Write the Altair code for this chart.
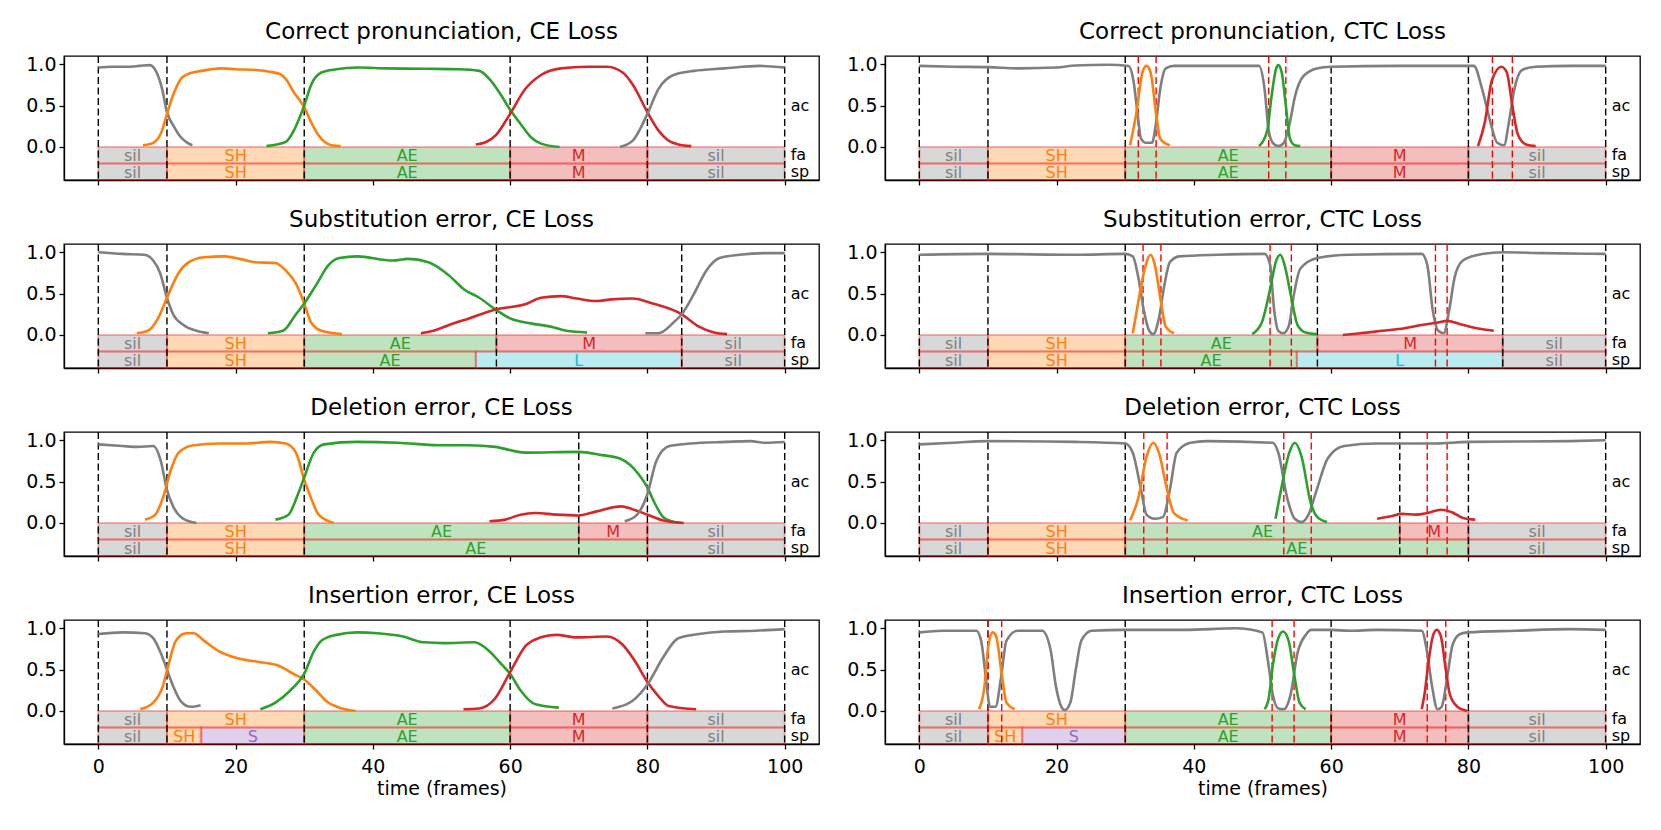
import altair as alt
import pandas as pd

# ---------------- shared categories / styling tables ----------------
PHONES = ["sil", "SH", "AE", "M", "L", "S"]
PHONE_COLORS = ["#7f7f7f", "#ff7f0e", "#2ca02c", "#d62728", "#17becf", "#9467bd"]
X_TICKS = [0, 20, 40, 60, 80, 100]
Y_TICKS = [0.0, 0.5, 1.0]
ROW_NAMES = ["ac", "fa", "sp"]
ROW_Y = [0.5, -0.1, -0.3]

# ---------------- segmentations ----------------
corr_fa_labels = ["sil", "SH", "AE", "M", "sil"]
corr_fa_edges = [0, 10, 30, 60, 80, 100]
corr_sp_labels = ["sil", "SH", "AE", "M", "sil"]
corr_sp_edges = [0, 10, 30, 60, 80, 100]
corr_bounds = [0, 10, 30, 60, 80, 100]

sub_fa_labels = ["sil", "SH", "AE", "M", "sil"]
sub_fa_edges = [0, 10, 30, 58, 85, 100]
sub_sp_labels = ["sil", "SH", "AE", "L", "sil"]
sub_sp_edges = [0, 10, 30, 55, 85, 100]
sub_bounds = [0, 10, 30, 58, 85, 100]

del_fa_labels = ["sil", "SH", "AE", "M", "sil"]
del_fa_edges = [0, 10, 30, 70, 80, 100]
del_sp_labels = ["sil", "SH", "AE", "sil"]
del_sp_edges = [0, 10, 30, 80, 100]
del_bounds = [0, 10, 30, 70, 80, 100]

ins_fa_labels = ["sil", "SH", "AE", "M", "sil"]
ins_fa_edges = [0, 10, 30, 60, 80, 100]
ins_sp_labels = ["sil", "SH", "S", "AE", "M", "sil"]
ins_sp_edges = [0, 10, 15, 30, 60, 80, 100]
ins_bounds = [0, 10, 30, 60, 80, 100]

# red dashed markers (CTC panels)
corr_ctc_marks = [31.9, 34.5, 50.9, 53.4, 83.5, 86.4]
sub_ctc_marks = [32.6, 35.2, 51.1, 54.2, 75.2, 76.9]
del_ctc_marks = [32.7, 36.1, 53.1, 57.1, 74.0, 76.9]
ins_ctc_marks = [10.0, 12.0, 51.4, 54.6, 74.0, 76.7]

# ---------------- posterior curves (frame, probability) ----------------
corr_ce_sil1 = [(0, 0.96), (2, 0.97), (4, 0.97), (6, 0.98), (7.5, 0.99), (8.5, 0.9), (9.3, 0.7), (10, 0.42), (11, 0.25), (12, 0.12), (13, 0.05), (13.7, 0.02)]
corr_ce_sh = [(6.5, 0.02), (8, 0.05), (9.3, 0.2), (10, 0.4), (11, 0.65), (12, 0.82), (13, 0.88), (15, 0.92), (18, 0.95), (20, 0.94), (23, 0.93), (25, 0.91), (26.5, 0.88), (27.5, 0.8), (28.5, 0.66), (29.3, 0.57), (30, 0.48), (31, 0.3), (32, 0.15), (33, 0.06), (34, 0.02), (35.3, 0.01)]
corr_ce_ae = [(24.5, 0.01), (26, 0.03), (27.3, 0.06), (28.5, 0.2), (29.3, 0.35), (30, 0.5), (31, 0.75), (32.5, 0.9), (34.7, 0.94), (37.7, 0.96), (42, 0.95), (47.4, 0.945), (52.6, 0.94), (55.5, 0.92), (57, 0.82), (58.5, 0.65), (60, 0.45), (61.5, 0.28), (63, 0.12), (64.5, 0.04), (67.2, 0.0)]
corr_ce_m = [(55, 0.03), (56.5, 0.06), (58, 0.15), (60, 0.4), (62.2, 0.7), (64.5, 0.87), (67.4, 0.95), (71.2, 0.97), (74.1, 0.97), (76.4, 0.9), (77.9, 0.75), (80, 0.42), (81.6, 0.2), (83, 0.08), (84.5, 0.03), (86.4, 0.01)]
corr_ce_sil2 = [(76, 0.0), (77.9, 0.08), (80, 0.4), (81.6, 0.7), (83.8, 0.87), (86.8, 0.92), (91.2, 0.95), (96.4, 0.98), (100, 0.96)]

corr_ctc_sil = [(0, 0.98), (5, 0.97), (10, 0.965), (14.7, 0.95), (20, 0.96), (22.7, 0.985), (27.5, 0.995), (30.5, 0.98), (31.2, 0.8), (31.8, 0.4), (32.3, 0.1), (33, 0.05), (33.9, 0.05), (34.5, 0.3), (35.1, 0.7), (35.9, 0.95), (37.1, 0.98), (45, 0.98), (49.5, 0.98), (50.3, 0.7), (50.9, 0.2), (51.5, 0.05), (52.3, 0.01), (53.1, 0.05), (54, 0.3), (54.7, 0.6), (55.9, 0.85), (57.9, 0.95), (60, 0.97), (70, 0.98), (80.8, 0.98), (82, 0.7), (83.2, 0.3), (84.2, 0.05), (85.2, 0.02), (85.9, 0.3), (86.7, 0.7), (87.8, 0.93), (89.8, 0.97), (95, 0.98), (100, 0.98)]
corr_ctc_sh = [(30.7, 0.02), (31.6, 0.4), (32.5, 0.9), (33.1, 0.98), (33.7, 0.9), (34.5, 0.4), (35.1, 0.1), (36.5, 0.02)]
corr_ctc_ae = [(49.5, 0.01), (50.7, 0.2), (51.3, 0.6), (52, 0.95), (52.3, 0.99), (52.8, 0.9), (53.4, 0.5), (54, 0.1), (54.7, 0.02), (55.5, 0.01)]
corr_ctc_m = [(81.4, 0.01), (82.4, 0.3), (83.4, 0.8), (84.8, 0.97), (85.6, 0.9), (86.4, 0.5), (87.2, 0.15), (88.4, 0.03), (89.8, 0.01)]

sub_ce_sil1 = [(0, 1.0), (3.5, 0.98), (6.7, 0.97), (8, 0.9), (9, 0.75), (10, 0.45), (10.9, 0.25), (12.4, 0.12), (14.3, 0.05), (16.1, 0.02)]
sub_ce_sh = [(5.6, 0.02), (7.2, 0.05), (8.7, 0.2), (10, 0.45), (11.7, 0.75), (13.2, 0.88), (15.4, 0.94), (18.4, 0.95), (20.6, 0.92), (22.8, 0.88), (25.8, 0.87), (27.3, 0.78), (28.8, 0.62), (30, 0.38), (31, 0.15), (32.5, 0.05), (35.5, 0.01)]
sub_ce_ae = [(24.7, 0.02), (26.9, 0.05), (28.8, 0.25), (30, 0.38), (31.7, 0.6), (33.6, 0.85), (35.1, 0.93), (37.7, 0.95), (42.9, 0.9), (45.1, 0.92), (48.1, 0.88), (51.1, 0.72), (53.3, 0.55), (55.5, 0.45), (58, 0.3), (60, 0.2), (63, 0.14), (66, 0.1), (68.2, 0.05), (71.2, 0.03)]
sub_ce_m = [(47, 0.02), (48.8, 0.05), (51.1, 0.12), (54, 0.2), (58, 0.31), (62.2, 0.37), (64.5, 0.45), (67.4, 0.47), (69.7, 0.44), (72.6, 0.41), (74.8, 0.43), (77.8, 0.44), (80.8, 0.38), (85, 0.25), (87.5, 0.1), (89.7, 0.03), (91.6, 0.01)]
sub_ce_sil2 = [(79.7, 0.02), (81.6, 0.02), (83.8, 0.15), (85, 0.25), (86.8, 0.5), (88.6, 0.78), (90.5, 0.93), (93.4, 0.97), (97.1, 0.99), (100, 0.99)]

sub_ctc_sil = [(0, 0.97), (10, 0.98), (22.7, 0.97), (30, 0.98), (31.1, 0.95), (31.9, 0.7), (32.7, 0.3), (33.5, 0.05), (34.1, 0.01), (34.9, 0.2), (35.7, 0.6), (36.5, 0.88), (37.9, 0.95), (43.5, 0.97), (50.3, 0.98), (51.1, 0.85), (51.7, 0.3), (52.3, 0.05), (53, 0.02), (53.8, 0.1), (54.6, 0.5), (55.5, 0.8), (58, 0.93), (62.7, 0.97), (73.2, 0.98), (74, 0.85), (74.8, 0.3), (75.6, 0.05), (76.4, 0.02), (77.2, 0.3), (78, 0.7), (79.2, 0.9), (82, 0.98), (85, 1.0), (90.8, 0.99), (100, 0.98)]
sub_ctc_sh = [(31.1, 0.02), (31.9, 0.4), (32.7, 0.75), (33.7, 0.97), (34.3, 0.85), (35.2, 0.4), (35.9, 0.1), (37.1, 0.02)]
sub_ctc_ae = [(48.5, 0.01), (49.9, 0.15), (51.1, 0.55), (52, 0.9), (52.6, 0.97), (53.2, 0.85), (54.2, 0.45), (55.1, 0.12), (56.3, 0.03), (57.9, 0.01)]
sub_ctc_m = [(61.7, 0.0), (64.3, 0.02), (67.5, 0.05), (70.7, 0.08), (73.2, 0.12), (75.6, 0.15), (76.9, 0.17), (78.8, 0.13), (81.2, 0.08), (83.7, 0.05)]

del_ce_sil1 = [(0, 0.95), (3.5, 0.93), (5.7, 0.92), (8, 0.93), (9.1, 0.75), (10, 0.4), (10.9, 0.2), (12.4, 0.05), (14.3, 0.0)]
del_ce_sh = [(6.8, 0.04), (8.3, 0.1), (9.4, 0.3), (10.6, 0.65), (11.7, 0.85), (13.9, 0.94), (17.6, 0.96), (21.3, 0.96), (25.1, 0.98), (27.3, 0.96), (28.8, 0.85), (30, 0.52), (31, 0.3), (32.1, 0.1), (34.3, 0.0)]
del_ce_ae = [(25.8, 0.04), (27.7, 0.1), (29.1, 0.35), (30, 0.55), (31.4, 0.85), (32.9, 0.95), (37.7, 0.98), (43.6, 0.97), (49.6, 0.94), (54, 0.94), (57.8, 0.92), (62.2, 0.85), (70, 0.86), (73.4, 0.82), (76, 0.78), (77.5, 0.7), (78.8, 0.58), (80, 0.43), (81, 0.25), (82.3, 0.07), (83.5, 0.02), (84.9, 0.0)]
del_ce_m = [(57, 0.02), (59.3, 0.04), (61.5, 0.1), (63.7, 0.12), (66.7, 0.1), (70, 0.09), (72.6, 0.14), (76.2, 0.2), (77.7, 0.17), (80, 0.1), (82.3, 0.03), (85.3, 0.0)]
del_ce_sil2 = [(76.7, 0.02), (78.5, 0.1), (80, 0.35), (81.3, 0.75), (83.2, 0.93), (86.2, 0.96), (91.4, 0.98), (95, 0.99), (97.2, 0.97), (100, 0.98)]

del_ctc_sil = [(0, 0.95), (5, 0.97), (10, 0.99), (22.7, 0.98), (30, 0.96), (31.1, 0.85), (32.3, 0.4), (33.1, 0.1), (34.3, 0.05), (35.5, 0.07), (36.5, 0.4), (37.5, 0.85), (39.5, 0.97), (41.9, 0.99), (51.5, 0.97), (52.3, 0.85), (53.6, 0.3), (54.7, 0.05), (55.7, 0.01), (56.7, 0.1), (57.9, 0.4), (59.5, 0.78), (61.9, 0.93), (66.7, 0.96), (74.8, 0.96), (80, 0.98), (94.8, 0.99), (100, 1.0)]
del_ctc_sh = [(30.7, 0.03), (31.9, 0.3), (33.1, 0.8), (34.1, 0.97), (34.9, 0.85), (36.1, 0.4), (37.1, 0.12), (39.1, 0.03)]
del_ctc_ae = [(51.9, 0.05), (52.7, 0.4), (53.9, 0.85), (54.7, 0.97), (55.7, 0.8), (57, 0.25), (57.9, 0.08), (59.4, 0.01)]
del_ctc_m = [(66.7, 0.05), (68.7, 0.08), (70.3, 0.11), (72.4, 0.1), (74, 0.12), (76, 0.16), (77.6, 0.13), (79.2, 0.06), (81, 0.04)]

ins_ce_sil1 = [(0, 0.93), (3.5, 0.95), (6.8, 0.94), (8, 0.88), (9.1, 0.7), (10, 0.5), (10.9, 0.3), (12, 0.12), (13.5, 0.05), (14.9, 0.07)]
ins_ce_sh = [(6.1, 0.02), (8, 0.1), (9.4, 0.3), (10.2, 0.55), (11.3, 0.85), (12.8, 0.94), (13.9, 0.94), (15.4, 0.85), (17.6, 0.72), (20.6, 0.63), (23.6, 0.59), (26.2, 0.55), (28.4, 0.45), (30, 0.38), (31.7, 0.25), (33.2, 0.12), (35.5, 0.03), (37.5, 0.0)]
ins_ce_ae = [(23.6, 0.02), (25.8, 0.1), (28, 0.25), (30, 0.45), (31.4, 0.72), (32.5, 0.85), (34.7, 0.92), (37.7, 0.95), (40.7, 0.94), (44.4, 0.9), (47.4, 0.83), (50.3, 0.82), (54.8, 0.83), (57, 0.72), (58.9, 0.55), (60, 0.45), (61.5, 0.25), (63.7, 0.08), (67.1, 0.04)]
ins_ce_m = [(53.2, 0.02), (55.5, 0.03), (57.8, 0.15), (60, 0.47), (62.2, 0.78), (64.5, 0.89), (66.7, 0.92), (69.7, 0.89), (74.1, 0.9), (76.4, 0.8), (78.2, 0.6), (80, 0.35), (81.6, 0.18), (83.1, 0.06), (87.1, 0.02)]
ins_ce_sil2 = [(74.9, 0.03), (77.8, 0.12), (80, 0.32), (82.3, 0.65), (84.5, 0.88), (87.5, 0.93), (91.2, 0.96), (95.7, 0.97), (100, 0.99)]

ins_ctc_sil = [(0, 0.95), (3.4, 0.97), (8.3, 0.97), (9, 0.85), (9.7, 0.4), (10.3, 0.05), (11.1, 0.05), (11.9, 0.4), (12.7, 0.85), (14.3, 0.97), (17.9, 0.97), (19.1, 0.75), (19.9, 0.3), (20.7, 0.05), (21.2, 0.01), (22, 0.1), (22.8, 0.5), (23.6, 0.85), (25.1, 0.97), (30, 0.98), (38.7, 0.98), (46, 1.0), (50, 0.95), (50.8, 0.6), (51.5, 0.2), (52.3, 0.03), (53.1, 0.02), (54.1, 0.2), (55.1, 0.7), (56.3, 0.92), (57.1, 0.98), (60, 0.98), (62.7, 0.97), (66.7, 0.98), (73.2, 0.97), (74, 0.7), (74.7, 0.3), (75.5, 0.02), (76.1, 0.05), (76.9, 0.4), (77.7, 0.8), (78.8, 0.93), (80, 0.95), (86.8, 0.97), (94.8, 0.99), (100, 0.98)]
ins_ctc_sh = [(8.7, 0.02), (9.5, 0.3), (10, 0.75), (10.7, 0.95), (11.2, 0.9), (12, 0.45), (12.7, 0.1), (13.9, 0.02)]
ins_ctc_ae = [(50.3, 0.02), (50.9, 0.15), (51.5, 0.55), (52.3, 0.88), (53, 0.96), (53.8, 0.85), (54.6, 0.45), (55.4, 0.1), (56.3, 0.02)]
ins_ctc_m = [(73.2, 0.02), (73.6, 0.2), (74.2, 0.6), (74.8, 0.9), (75.4, 0.98), (76, 0.9), (76.7, 0.5), (77.3, 0.2), (78.4, 0.05), (79.8, 0.0)]

# ---------------- panel table ----------------
panels = [
    [
        dict(title="Correct pronunciation, CE Loss", fa=(corr_fa_labels, corr_fa_edges), sp=(corr_sp_labels, corr_sp_edges), bounds=corr_bounds, marks=[],
             curves=[("sil", corr_ce_sil1), ("SH", corr_ce_sh), ("AE", corr_ce_ae), ("M", corr_ce_m), ("sil", corr_ce_sil2)]),
        dict(title="Correct pronunciation, CTC Loss", fa=(corr_fa_labels, corr_fa_edges), sp=(corr_sp_labels, corr_sp_edges), bounds=corr_bounds, marks=corr_ctc_marks,
             curves=[("sil", corr_ctc_sil), ("SH", corr_ctc_sh), ("AE", corr_ctc_ae), ("M", corr_ctc_m)]),
    ],
    [
        dict(title="Substitution error, CE Loss", fa=(sub_fa_labels, sub_fa_edges), sp=(sub_sp_labels, sub_sp_edges), bounds=sub_bounds, marks=[],
             curves=[("sil", sub_ce_sil1), ("SH", sub_ce_sh), ("AE", sub_ce_ae), ("M", sub_ce_m), ("sil", sub_ce_sil2)]),
        dict(title="Substitution error, CTC Loss", fa=(sub_fa_labels, sub_fa_edges), sp=(sub_sp_labels, sub_sp_edges), bounds=sub_bounds, marks=sub_ctc_marks,
             curves=[("sil", sub_ctc_sil), ("SH", sub_ctc_sh), ("AE", sub_ctc_ae), ("M", sub_ctc_m)]),
    ],
    [
        dict(title="Deletion error, CE Loss", fa=(del_fa_labels, del_fa_edges), sp=(del_sp_labels, del_sp_edges), bounds=del_bounds, marks=[],
             curves=[("sil", del_ce_sil1), ("SH", del_ce_sh), ("AE", del_ce_ae), ("M", del_ce_m), ("sil", del_ce_sil2)]),
        dict(title="Deletion error, CTC Loss", fa=(del_fa_labels, del_fa_edges), sp=(del_sp_labels, del_sp_edges), bounds=del_bounds, marks=del_ctc_marks,
             curves=[("sil", del_ctc_sil), ("SH", del_ctc_sh), ("AE", del_ctc_ae), ("M", del_ctc_m)]),
    ],
    [
        dict(title="Insertion error, CE Loss", fa=(ins_fa_labels, ins_fa_edges), sp=(ins_sp_labels, ins_sp_edges), bounds=ins_bounds, marks=[],
             curves=[("sil", ins_ce_sil1), ("SH", ins_ce_sh), ("AE", ins_ce_ae), ("M", ins_ce_m), ("sil", ins_ce_sil2)]),
        dict(title="Insertion error, CTC Loss", fa=(ins_fa_labels, ins_fa_edges), sp=(ins_sp_labels, ins_sp_edges), bounds=ins_bounds, marks=ins_ctc_marks,
             curves=[("sil", ins_ctc_sil), ("SH", ins_ctc_sh), ("AE", ins_ctc_ae), ("M", ins_ctc_m)]),
    ],
]

FONT = "DejaVu Sans"
FS = 19          # tick labels / axis title
FS_IN = 16       # phone labels inside bars and row names
PANEL_W = 755
PANEL_H = 124
xscale = alt.Scale(domain=[-5, 105], nice=False, zero=False)
yscale = alt.Scale(domain=[-0.4, 1.1], nice=False, zero=False)
cscale = alt.Scale(domain=PHONES, range=PHONE_COLORS)


def seg_rows(labels, edges, y0, y1):
    out = []
    for i, lab in enumerate(labels):
        out.append(dict(phone=lab, x0=edges[i], x1=edges[i + 1], y0=y0, y1=y1,
                        xm=(edges[i] + edges[i + 1]) / 2, ym=(y0 + y1) / 2))
    return out


def make_panel(spec, bottom):
    xaxis = alt.Axis(values=X_TICKS, labels=bottom, grid=False, tickSize=5, labelPadding=8,
                     title="time (frames)" if bottom else None)
    yaxis = alt.Axis(values=Y_TICKS, format=".1f", grid=False, tickSize=5, labelPadding=3, title=None)

    segs = pd.DataFrame(seg_rows(*spec["fa"], 0.0, -0.2) + seg_rows(*spec["sp"], -0.2, -0.4))
    rects = alt.Chart(segs).mark_rect(fillOpacity=0.3, stroke="#ff0000", strokeOpacity=0.3, strokeWidth=2).encode(
        x=alt.X("x0:Q", scale=xscale, axis=xaxis), x2="x1:Q",
        y=alt.Y("y0:Q", scale=yscale, axis=yaxis), y2="y1:Q",
        fill=alt.Fill("phone:N", scale=cscale, legend=None),
    )
    seg_text = alt.Chart(segs).mark_text(font=FONT, fontSize=FS_IN, baseline="middle", align="center", dy=1).encode(
        x=alt.X("xm:Q", scale=xscale, axis=xaxis),
        y=alt.Y("ym:Q", scale=yscale, axis=yaxis),
        text="phone:N",
        color=alt.Color("phone:N", scale=cscale, legend=None),
    )
    bdf = pd.DataFrame({"x": spec["bounds"]})
    brules = alt.Chart(bdf).mark_rule(color="black", strokeWidth=1.4, strokeDash=[7, 3.5]).encode(
        x=alt.X("x:Q", scale=xscale, axis=xaxis))
    layers = [rects, seg_text, brules]
    if spec["marks"]:
        mdf = pd.DataFrame({"x": spec["marks"]})
        layers.append(alt.Chart(mdf).mark_rule(color="#ff0000", strokeWidth=1.4, strokeDash=[7, 3.5]).encode(
            x=alt.X("x:Q", scale=xscale, axis=xaxis)))
    rows = []
    for ci, (ph, pts) in enumerate(spec["curves"]):
        for t, p in pts:
            rows.append(dict(t=t, p=p, phone=ph, cid=ci))
    cdf = pd.DataFrame(rows)
    lines = alt.Chart(cdf).mark_line(strokeWidth=2.6, interpolate="monotone").encode(
        x=alt.X("t:Q", scale=xscale, axis=xaxis),
        y=alt.Y("p:Q", scale=yscale, axis=yaxis),
        color=alt.Color("phone:N", scale=cscale, legend=None),
        detail="cid:N",
        order="t:Q",
    )
    layers.append(lines)
    sdf = pd.DataFrame({"name": ROW_NAMES, "y": ROW_Y, "x": [100] * 3})
    side = alt.Chart(sdf).mark_text(font=FONT, fontSize=FS_IN, align="left", baseline="middle", dx=6, color="black").encode(
        x=alt.X("x:Q", scale=xscale, axis=xaxis),
        y=alt.Y("y:Q", scale=yscale, axis=yaxis),
        text="name:N",
    )
    layers.append(side)
    return alt.layer(*layers).properties(
        width=PANEL_W, height=PANEL_H,
        title=alt.TitleParams(text=spec["title"], font=FONT, fontSize=23, fontWeight="normal",
                              color="black", offset=11, frame="group"),
    )


row_charts = []
for ri, row in enumerate(panels):
    bottom = ri == len(panels) - 1
    row_charts.append(alt.hconcat(*[make_panel(s, bottom) for s in row], spacing=26))

chart = alt.vconcat(*row_charts, spacing=21).properties(
    padding={"left": 17, "top": 12, "right": 5, "bottom": 5}
).configure_view(stroke="black", strokeWidth=1.3).configure_axis(
    labelFont=FONT, labelFontSize=FS, labelColor="black", tickColor="black", domainColor="black",
    domainWidth=1.3, tickWidth=1.3,
    titleFont=FONT, titleFontSize=FS, titleFontWeight="normal", titleColor="black",
    titlePadding=3,
)

chart.save("out.html", embed_options={"renderer": "svg", "actions": False})
